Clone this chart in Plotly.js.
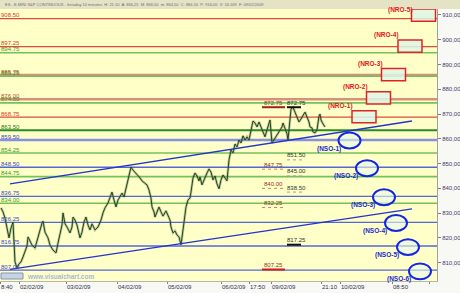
<!DOCTYPE html>
<html>
<head>
<meta charset="utf-8">
<script src="https://cdn.plot.ly/plotly-3.0.1.min.js"></script>
<style>html,body{margin:0;padding:0;background:#f8f8f4;}#chart{width:460px;height:293px;}</style>
</head>
<body>
<div id="chart"></div>
<script>
// ---------------- DATA ----------------
const priceSlot = [1,3,5,7,9,11,13,15,17,19,21,23,25,27,28,30,32,35,37,40,42,43,45,48,50,53,56,58,60,62,63,65,67,70,72,73,75,77,80,82,84,86,88,90,92,95,98,101,103,105,108,110,112,114,116,118,120,122,124,126,128,130,131,133,135,137,140,142,145,147,149,151,152,154,155,157,159,161,163,166,168,170,171,173,175,177,179,180,181,183,185,186,188,190,191,193,195,197,199,200,202,205,207,209,211,213,215,217,219,221,223,225,227,229,231,233,235,237,239,241,243,245,247,249,251,253,255,257,259,261,263,265,267,269,270,272,274,276,278,280,282,283,285,287,288,289,290,291,293,295,297,299,301,303,305,307,309,310,312,313,315,317,318,319,320,321,323,325];
const priceClose = [832.1,830.5,828.0,823.2,820.0,824.0,826.4,810.3,807.9,809.5,810.3,812.3,814.3,816.7,820.4,818.8,817.1,815.9,819.1,823.2,826.0,826.8,822.3,820.0,817.1,815.1,813.9,817.9,822.0,825.2,830.1,825.7,824.4,822.0,824.4,828.4,827.2,825.2,820.0,822.3,826.4,828.4,825.2,823.2,825.7,823.2,824.4,827.2,830.1,832.1,834.1,836.5,838.5,835.3,832.5,835.3,836.5,838.1,836.5,840.2,843.4,846.6,848.6,847.4,846.6,845.4,844.2,843.0,842.2,841.4,839.3,836.1,832.5,830.5,828.4,830.5,832.5,830.5,828.8,830.9,829.3,827.2,824.4,822.0,822.8,821.2,820.4,818.0,817.25,823.2,828.4,832.5,835.3,836.1,838.5,844.2,846.2,845.0,843.0,844.6,841.4,844.6,846.2,847.8,846.6,843.4,845.0,841.8,839.8,843.4,845.4,844.2,843.0,851.5,855.5,854.3,857.9,856.7,859.5,858.3,861.2,859.5,860.8,859.5,863.6,867.2,866.4,864.8,866.8,864.8,862.0,860.8,863.6,866.0,867.6,858.3,859.5,861.2,862.0,863.2,864.8,866.4,864.4,862.0,859.5,863.6,868.4,872.0,872.75,870.8,868.8,866.8,868.0,869.2,870.8,868.8,866.8,864.8,864.4,862.8,862.4,863.6,866.8,869.2,870.0,867.6,866.0,864.8];

const redLevels = [908.50, 897.25, 868.75];
const salmonLevels = [885.75, 876.00];
const greenLevels = [894.75, 885.25, 874.50, 854.25, 844.75, 834.00];
const darkGreenLevels = [863.50];
const blueLevels = [859.50, 848.50, 836.75, 826.25, 816.75, 807.00];

const markLeftValues = [872.75, 847.75, 840.00, 832.25, 807.25];
const markRightValues = [872.75, 851.50, 845.00, 838.50, 817.25];

const nroLabels = ["(NRO-1)","(NRO-2)","(NRO-3)","(NRO-4)","(NRO-5)"];
const nroSlot = [364, 378.5, 393.5, 410, 423.5];
const nroPrice = [868.9, 876.5, 885.9, 897.4, 909.9];

const nsoLabels = ["(NSO-1)","(NSO-2)","(NSO-3)","(NSO-4)","(NSO-5)","(NSO-6)"];
const nsoSlot = [349.5, 367, 384, 396, 408, 420];
const nsoPrice = [859.3, 848.1, 836.4, 826.0, 816.3, 806.5];

const trendSlot = [10, 412];
const upperTrend = [841.8, 867.2];
const lowerTrend = [807.3, 831.7];

const xTickSlots = [0, 19, 66, 117, 167, 221, 249, 271, 321, 340, 392, 429];
const xTickLabels = ["8:40","02/02/09","03/02/09","04/02/09","05/02/09","06/02/09","17:50","09/02/09","21:10","10/02/09","08:50",""];
const yTicks = [810, 820, 830, 840, 850, 860, 870, 880, 890, 900, 910];

const titleText = "ES - E-MINI S&P CONTINUOUS - Intraday 10 minutes  H: 21:10  A: 866,25  M: 866,50  m: 864,50  C: 866,50  P: 916,00  V: 16.169  F: 09/02/2009";

// ---------------- BUILD ----------------
const FONT = "Liberation Sans, Arial, sans-serif";
const shapes = [];
const annotations = [];

function levelLine(v, color, width) {
  shapes.push({type:'line', xref:'paper', x0:0, x1:1, yref:'y', y0:v, y1:v,
    line:{color:color, width:width}, layer:'below'});
}
function levelLabel(v, color) {
  annotations.push({xref:'paper', x:0, xanchor:'left', yref:'y', y:v, yanchor:'middle', yshift:3.5,
    text:v.toFixed(2), showarrow:false, borderpad:0, font:{family:FONT, size:6, color:color}});
}
salmonLevels.forEach(v => levelLine(v, '#d8907c', 2.5));
redLevels.forEach(v => levelLine(v, '#e04a3c', 1.2));
greenLevels.forEach(v => levelLine(v, '#74c05a', 1.6));
darkGreenLevels.forEach(v => levelLine(v, '#2a8a2a', 2));
blueLevels.forEach((v,i) => levelLine(v, i===0 ? '#8890e4' : '#5666d8', i===0 ? 2.5 : 1.4));

salmonLevels.forEach(v => levelLabel(v, '#c0503a'));
redLevels.forEach(v => levelLabel(v, '#d83a30'));
greenLevels.forEach(v => levelLabel(v, '#3c9a2c'));
darkGreenLevels.forEach(v => levelLabel(v, '#227a22'));
blueLevels.forEach(v => levelLabel(v, '#3c4cc8'));

// marker texts
markLeftValues.forEach((v,i) => {
  annotations.push({xref:'x', x:273, xanchor:'center', yref:'y', y:v, yanchor:'middle', yshift:4.5,
    text:v.toFixed(2), showarrow:false, borderpad:0, font:{family:FONT, size:6, color:'#943030'}});
  const solid = (i===0 || i===markLeftValues.length-1);
  shapes.push({type:'line', xref:'x', x0:262, x1:285, yref:'y', y0:v, y1:v,
    line:{color: solid ? (i===0 ? '#a02020' : '#d02020') : '#c08070', width: solid ? 2 : 1, dash: solid ? 'solid' : 'dot'}});
});
markRightValues.forEach((v,i) => {
  annotations.push({xref:'x', x:296, xanchor:'center', yref:'y', y:v, yanchor:'middle', yshift:4.5,
    text:v.toFixed(2), showarrow:false, borderpad:0, font:{family:FONT, size:6, color:'#303030'}});
  const solid = (i===0 || i===markRightValues.length-1);
  shapes.push({type:'line', xref:'x', x0:287, x1: solid ? 301 : 305, yref:'y', y0:v, y1:v,
    line:{color: solid ? '#101010' : '#a0a090', width: solid ? 2 : 1, dash: solid ? 'solid' : 'dot'}});
});

// NRO boxes
nroSlot.forEach((s,i) => {
  const top = nroPrice[i] + 2.45;
  shapes.push({type:'rect', xref:'x', yref:'y', x0:s-12, x1:s+12, y0:nroPrice[i]-2.45, y1:top,
    fillcolor:'rgba(222,246,232,0.85)', line:{color:'#e02424', width:1.5}});
  annotations.push({xref:'x', x:s-12, xanchor:'right', xshift:2, yref:'y', y:Math.min(top + 1.9, 912.1), yanchor:'middle',
    text:nroLabels[i], showarrow:false, borderpad:0, font:{family:FONT, size:6.5, color:'#e02020', weight:'bold'}});
});
// NSO ellipses
nsoSlot.forEach((s,i) => {
  shapes.push({type:'circle', xref:'x', yref:'y', x0:s-11, x1:s+11, y0:nsoPrice[i]-3.2, y1:nsoPrice[i]+3.2,
    fillcolor:'rgba(232,248,236,0.6)', line:{color:'#1426e0', width:2}});
  annotations.push({xref:'x', x:s-11, xanchor:'right', xshift:3, yref:'y', y:nsoPrice[i], yanchor:'middle', yshift:-8,
    text:nsoLabels[i], showarrow:false, borderpad:0, font:{family:FONT, size:6.5, color:'#1a2ad0', weight:'bold'}});
});

// title strip
shapes.push({type:'rect', xref:'paper', yref:'paper', x0:0, x1:460/437, y0:1, y1:1+9/272,
  fillcolor:'#e4e4c4', line:{width:0}, layer:'below'});
annotations.push({xref:'paper', yref:'paper', x:0.01, y:1+4.5/272, xanchor:'left', yanchor:'middle',
  text:titleText, showarrow:false, borderpad:0, font:{family:FONT, size:4, color:'#6a6a8a'}});

// watermark
shapes.push({type:'rect', xref:'paper', yref:'paper', x0:1/437, x1:23/437, y0:2/272, y1:8/272,
  fillcolor:'#c8d2e4', line:{color:'#8494b4', width:1}});
annotations.push({xref:'paper', yref:'paper', x:26/437, y:5/272, xanchor:'left', yanchor:'middle',
  text:'<b>www.visualchart.com</b>', showarrow:false, borderpad:0, font:{family:FONT, size:6.5, color:'#aab8d8'}});

const traces = [
  {x:priceSlot, y:priceClose, type:'scatter', mode:'lines', line:{color:'rgba(110,110,90,0.4)', width:2.6}, hoverinfo:'skip'},
  {x:priceSlot, y:priceClose, type:'scatter', mode:'lines', line:{color:'#1c4a1c', width:1}},
  {x:trendSlot, y:upperTrend, type:'scatter', mode:'lines', line:{color:'#2434cc', width:1.4}},
  {x:trendSlot, y:lowerTrend, type:'scatter', mode:'lines', line:{color:'#2434cc', width:1.4}}
];

const layout = {
  width:460, height:293,
  margin:{l:0, r:23, t:9, b:12, pad:0},
  paper_bgcolor:'#f8f8f4',
  plot_bgcolor:'#ffffc8',
  showlegend:false,
  separators:',.',
  font:{family:FONT, size:6},
  xaxis:{range:[0,437], tickvals:xTickSlots, ticktext:xTickLabels, ticks:'outside', ticklen:2, tickangle:0,
    tickcolor:'#808080', ticklabelposition:'outside right', showgrid:false, zeroline:false,
    showline:true, linecolor:'#b8b8a8', linewidth:1, tickfont:{family:FONT, size:6, color:'#303050'}},
  yaxis:{side:'right', range:[802.6, 912.4], tickvals:yTicks, tickformat:'.2f', ticks:'outside', ticklen:3,
    tickcolor:'#808080', showgrid:false, zeroline:false, showline:true, linecolor:'#a0a0a0', linewidth:1,
    tickfont:{family:FONT, size:6, color:'#404070'}},
  shapes:shapes,
  annotations:annotations
};

Plotly.newPlot('chart', traces, layout, {staticPlot:true, displayModeBar:false});
</script>
</body>
</html>
